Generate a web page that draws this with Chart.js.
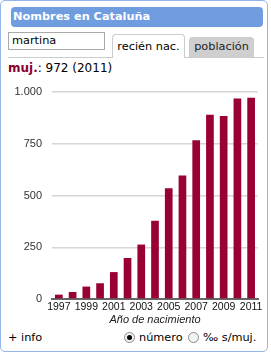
<!DOCTYPE html>
<html>
<head>
<meta charset="utf-8">
<script src="https://cdn.jsdelivr.net/npm/chart.js"></script>
<style>
  body { margin: 0; background: #fff; font-family: "DejaVu Sans", Verdana, sans-serif; }
  .card { position: absolute; left: 0; top: 0; width: 266px; height: 350px; border: 1px solid #93b5e8; border-radius: 5px; }
  .head { position: absolute; left: 11px; top: 7px; width: 252px; height: 20px; background: #6f9de0; border-radius: 4px;
          color: #fff; font-weight: bold; font-size: 11.3px; line-height: 20px; padding-left: 2px; box-sizing: border-box; }
  .name { position: absolute; left: 8px; top: 32px; width: 97px; height: 18px; border: 1px solid #a9a9a9; box-sizing: border-box;
          font-size: 11.3px; line-height: 16px; padding-left: 3px; color: #000; }
  .tab { position: absolute; box-sizing: border-box; font-size: 11.3px; text-align: center;
         border: 1px solid #ccc; border-bottom: none; border-radius: 4px 4px 0 0; color: #000; }
  .tab.on { left: 112px; top: 34px; width: 73px; height: 24px; line-height: 24px; background: #fff; z-index: 2; }
  .tab.off { left: 189px; top: 37px; width: 65px; height: 20px; line-height: 18px; background: #cfcfcf; color: #222; }
  .rule { position: absolute; left: 8px; top: 57px; width: 256px; height: 1px; background: #ccc; }
  .val { position: absolute; left: 8px; top: 61px; font-size: 12px; line-height: 14px; color: #000; }
  .val b { color: #8b0033; }
  .foot { position: absolute; top: 331px; font-size: 11.3px; line-height: 14px; color: #000; }
  .radio { display: inline-block; width: 11px; height: 11px; border: 1px solid #888; border-radius: 50%; vertical-align: -2px;
           box-sizing: border-box; background: #f4f4f4; position: relative; margin-right: 4px; }
  .radio.on::after { content: ""; position: absolute; left: 2px; top: 2px; width: 5px; height: 5px; border-radius: 50%; background: #000; }
  #wrap { position: absolute; left: 0; top: 80px; width: 268px; height: 250px; }
</style>
</head>
<body>
<div class="card"></div>
<div class="head">Nombres en Cataluña</div>
<div class="name">martina</div>
<div class="tab on">recién nac.</div>
<div class="tab off">población</div>
<div class="rule"></div>
<div class="val"><b>muj.</b>: 972 (2011)</div>
<div id="wrap"><canvas id="myChart" width="268" height="250"></canvas></div>
<div class="foot" style="left:8px">+ info</div>
<div class="foot" style="left:124px"><span class="radio on"></span>número</div>
<div class="foot" style="left:188px"><span class="radio"></span>‰ s/muj.</div>
<script>
let years = ["1997","1998","1999","2000","2001","2002","2003","2004","2005","2006","2007","2008","2009","2010","2011"];
let births = [21, 34, 60, 76, 130, 198, 263, 378, 535, 597, 767, 890, 884, 968, 972];
let yTicks = [0, 250, 500, 750, 1000];

let popCanvas = document.getElementById("myChart");

let birthData = {
    label: 'Martina',
    data: births,
    backgroundColor: '#990033',
    barPercentage: 0.56,
    categoryPercentage: 1
};

let barChart = new Chart(popCanvas, {
    type: 'bar',
    data: { labels: years, datasets: [birthData] },
    options: {
        responsive: false,
        animation: false,
        layout: { padding: { top: 12, right: 10, left: 0, bottom: 0 } },
        plugins: { legend: { display: false }, tooltip: { enabled: false } },
        scales: {
            y: {
                min: yTicks[0],
                max: yTicks[yTicks.length - 1],
                afterBuildTicks: (s) => { s.ticks = yTicks.map(v => ({ value: v })); },
                afterFit: (s) => { s.width = 52; s.paddingTop = 0; s.paddingBottom = 0; },
                border: { display: false },
                grid: { color: '#d6d6d6', lineWidth: 1.5, drawTicks: false },
                ticks: {
                    padding: 10,
                    color: '#333',
                    font: { family: 'Liberation Sans', size: 11 },
                    callback: (v) => v.toLocaleString('de-DE')
                }
            },
            x: {
                afterFit: (s) => { s.height = 31; s.paddingLeft = 0; s.paddingRight = 0; },
                grid: { display: false, drawTicks: false, tickLength: 0 },
                border: { display: true, color: '#666', width: 2 },
                ticks: {
                    autoSkip: false,
                    maxRotation: 0,
                    padding: 2,
                    color: '#111',
                    font: { family: 'Liberation Sans', size: 10.5 },
                    callback: function (v, i) { return i % 2 === 0 ? years[i] : ''; }
                },
                title: {
                    display: true,
                    text: 'Año de nacimiento',
                    color: '#222',
                    padding: { top: 0, bottom: 3 },
                    font: { family: 'Liberation Sans', size: 11, style: 'italic' }
                }
            }
        }
    }
});
</script>
</body>
</html>
